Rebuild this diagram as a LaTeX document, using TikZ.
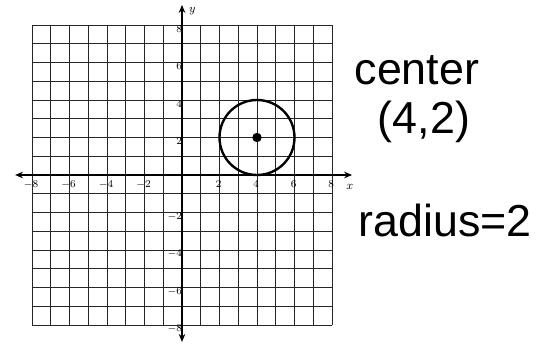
\documentclass[tikz,border=0pt]{standalone}
\usepackage{fontspec}
\newfontfamily\handfont{Liberation Sans}
\usetikzlibrary{arrows.meta}
\begin{document}
\begin{tikzpicture}[x=0.5cm, y=0.5cm,
    gridline/.style={draw=black!85, line width=0.5pt},
    axis/.style={line width=0.9pt, {Stealth[length=6pt,width=5pt]}-{Stealth[length=6pt,width=5pt]}},
    ticklabel/.style={font=\footnotesize, inner sep=0.5pt},
    handtext/.style={font=\handfont\fontsize{34}{36}\selectfont, inner sep=0pt},
    every node/.style={font=\small}]
    \useasboundingbox (-9.707,-9.067) rectangle (19.307,9.333);
    % Grid
    \draw[gridline, step=0.5cm] (-8,-8) grid (8,8);
    % Axes
    \draw[axis] (-8.9,0) -- (9.07,0);
    \draw[axis] (0,-8.9) -- (0,9.07);
    \node (lblx) at (8.95,-0.62) {$x$};
    \node (lbly) at (0.55,8.75) {$y$};
    % Tick labels
    \foreach \i in {-8,-6,-4,-2,2,4,6,8} {
        \node[ticklabel, anchor=north] (tx\i) at (\i-0.05,-0.25) {$\i$};
        \node[ticklabel, anchor=east] (ty\i) at (0.05,\i-0.2) {$\i$};
    }
    % Circle and center
    \draw[line width=1.8pt] (4,2) circle (2);
    \fill (4,2) circle (0.25);
    % Notes
    \node[handtext] (center) at (12.53,5.6) {center};
    \node[handtext] (point) at (12.9,2.83) {(4,2)};
    \node[handtext] (radius) at (14.03,-2.4) {radius=2};
\end{tikzpicture}
\end{document}
